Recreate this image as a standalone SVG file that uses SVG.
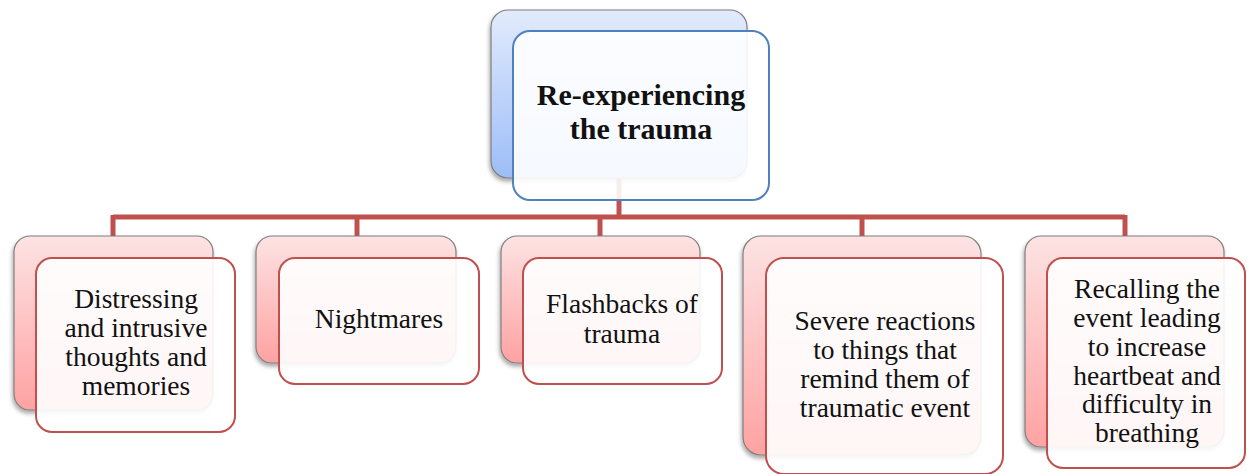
<svg xmlns="http://www.w3.org/2000/svg" width="1247" height="474" viewBox="0 0 1247 474">
  <defs>
    <linearGradient id="gBlue" x1="0" y1="0" x2="0" y2="1">
      <stop offset="0" stop-color="#e2ebfc"/>
      <stop offset="1" stop-color="#9dbdf7"/>
    </linearGradient>
    <linearGradient id="gRed" x1="0" y1="0" x2="0" y2="1">
      <stop offset="0" stop-color="#fde3e3"/>
      <stop offset="1" stop-color="#ffa2a2"/>
    </linearGradient>
    <filter id="shadow" x="-10%" y="-10%" width="125%" height="125%">
      <feDropShadow dx="-1" dy="3" stdDeviation="2" flood-color="#000" flood-opacity="0.35"/>
    </filter>
  </defs>
  <style>
    .back { stroke: #7f7f7f; stroke-width: 1.2; filter: url(#shadow); }
    .backBlue { fill: url(#gBlue); }
    .backRed { fill: url(#gRed); }
    .front { fill: #ffffff; fill-opacity: 0.9; stroke-width: 2; }
    .frontBlue { stroke: #4f81bd; }
    .frontRed { stroke: #c0504d; }
    .conn { stroke: #c0504d; stroke-width: 5; fill: none; }
    text { font-family: "Liberation Serif", "Times New Roman", serif; fill: #111; text-anchor: middle; }
    .title { font-size: 30px; font-weight: bold; }
    .label { font-size: 27.5px; }
  </style>

  <!-- hierarchy connectors -->
  <g id="connectors">
    <line class="conn" x1="619" y1="170" x2="619" y2="217"/>
    <line class="conn" x1="113" y1="217" x2="1125" y2="217"/>
    <line class="conn" x1="113" y1="215" x2="113" y2="240"/>
    <line class="conn" x1="357" y1="215" x2="357" y2="240"/>
    <line class="conn" x1="600" y1="215" x2="600" y2="240"/>
    <line class="conn" x1="862" y1="215" x2="862" y2="240"/>
    <line class="conn" x1="1125" y1="215" x2="1125" y2="240"/>
  </g>

  <!-- root -->
  <g id="node-root">
    <rect class="back backBlue" x="491" y="10" width="256" height="168" rx="17"/>
    <rect class="front frontBlue" x="513" y="31" width="256" height="169" rx="17"/>
    <text class="title" x="641" y="105">Re-experiencing</text>
    <text class="title" x="641" y="139">the trauma</text>
  </g>

  <g id="node-distressing">
    <rect class="back backRed" x="14" y="236" width="199" height="174" rx="16"/>
    <rect class="front frontRed" x="36" y="258" width="199" height="174" rx="16"/>
    <text class="label" x="136" y="308">Distressing</text>
    <text class="label" x="136" y="337">and intrusive</text>
    <text class="label" x="136" y="366">thoughts and</text>
    <text class="label" x="136" y="395">memories</text>
  </g>

  <g id="node-nightmares">
    <rect class="back backRed" x="256" y="236" width="200" height="127" rx="16"/>
    <rect class="front frontRed" x="279" y="258" width="200" height="126" rx="16"/>
    <text class="label" x="379" y="328">Nightmares</text>
  </g>

  <g id="node-flashbacks">
    <rect class="back backRed" x="501" y="236" width="199" height="127" rx="16"/>
    <rect class="front frontRed" x="523" y="258" width="199" height="126" rx="16"/>
    <text class="label" x="622" y="313">Flashbacks of</text>
    <text class="label" x="622" y="343">trauma</text>
  </g>

  <g id="node-reactions">
    <rect class="back backRed" x="743" y="236" width="238" height="219" rx="18"/>
    <rect class="front frontRed" x="766" y="258" width="237" height="216" rx="18"/>
    <text class="label" x="885" y="330">Severe reactions</text>
    <text class="label" x="885" y="359">to things that</text>
    <text class="label" x="885" y="388">remind them of</text>
    <text class="label" x="885" y="417">traumatic event</text>
  </g>

  <g id="node-recalling">
    <rect class="back backRed" x="1025" y="236" width="199" height="211" rx="16"/>
    <rect class="front frontRed" x="1047" y="258" width="198" height="210" rx="16"/>
    <text class="label" x="1147" y="298">Recalling the</text>
    <text class="label" x="1147" y="327">event leading</text>
    <text class="label" x="1147" y="356">to increase</text>
    <text class="label" x="1147" y="385">heartbeat and</text>
    <text class="label" x="1147" y="413">difficulty in</text>
    <text class="label" x="1147" y="442">breathing</text>
  </g>
</svg>
